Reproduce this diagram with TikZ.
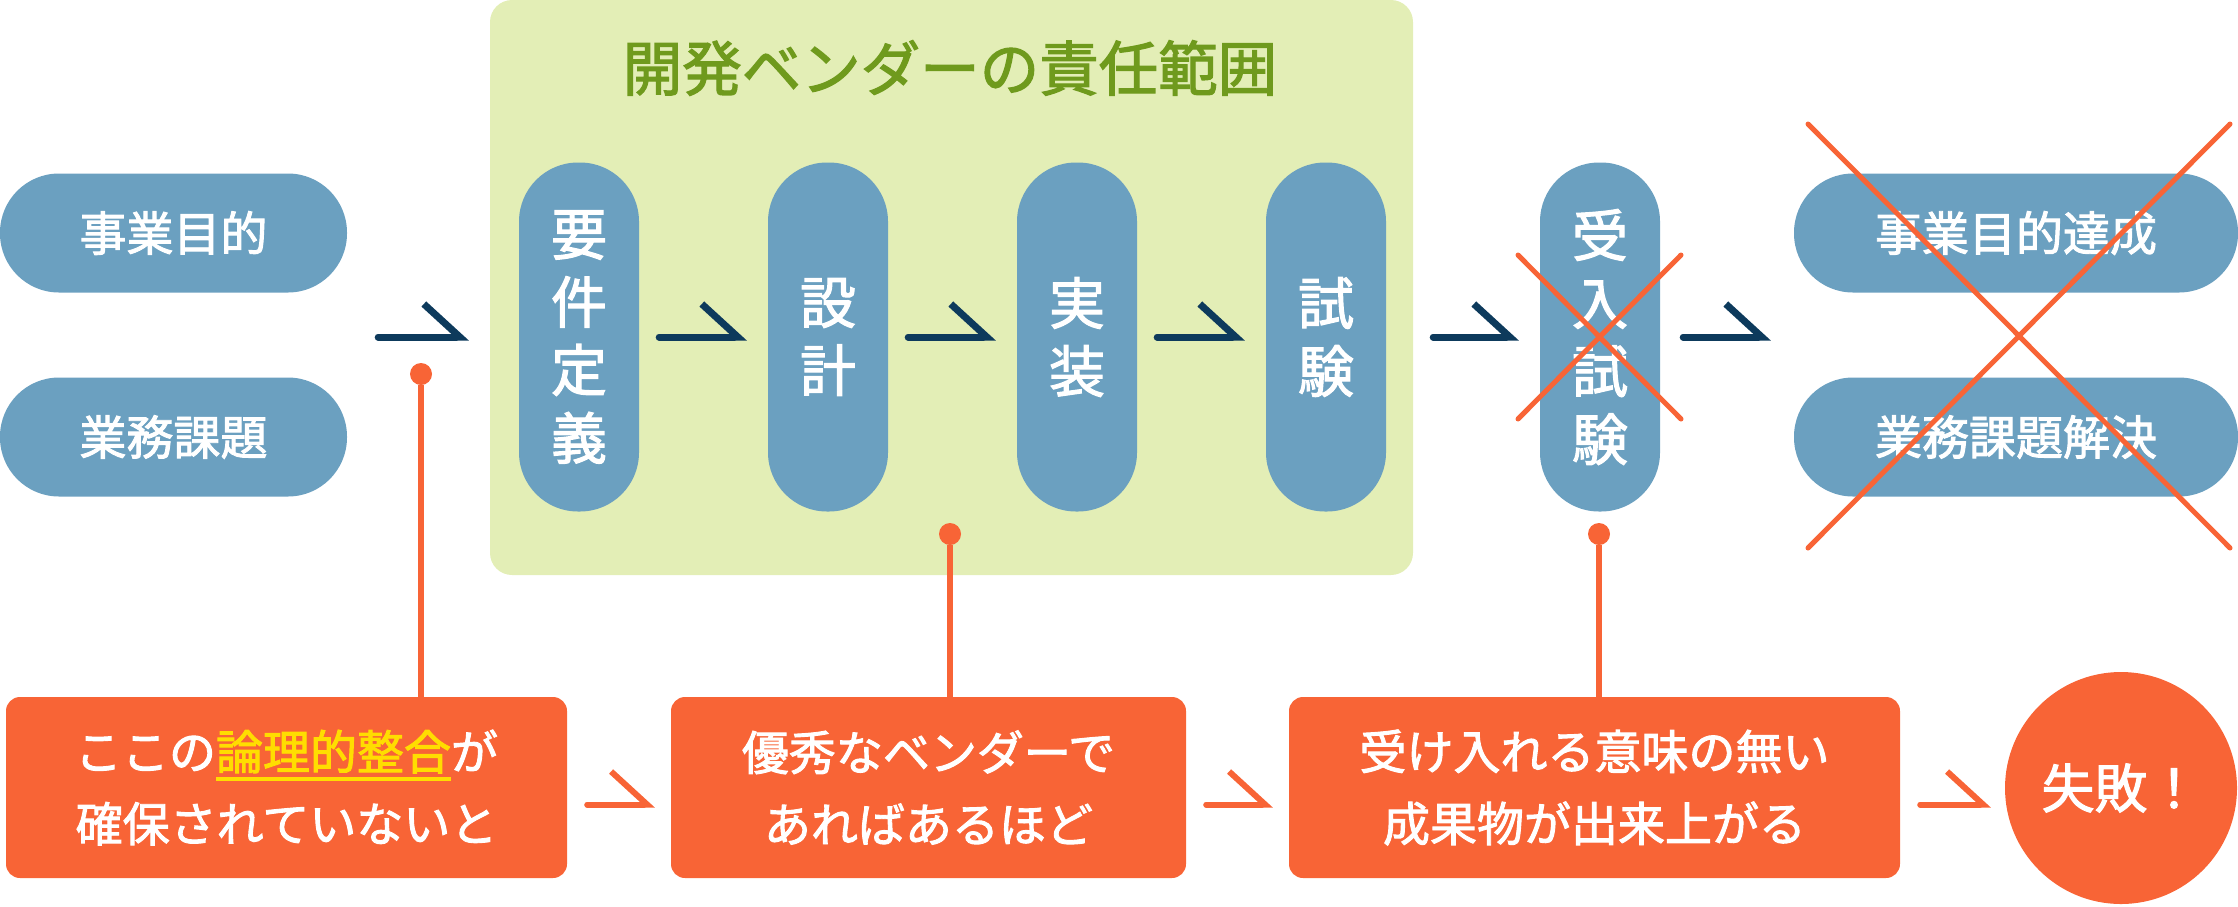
\documentclass[tikz,border=0pt]{standalone}
\usepackage{fontspec}
\setmainfont{Noto Sans CJK JP}[FakeBold=2]
\usetikzlibrary{arrows.meta}
\definecolor{pill}{HTML}{6BA0C0}
\definecolor{scope}{HTML}{E3EEB6}
\definecolor{scopetext}{HTML}{6F9A1D}
\definecolor{navy}{HTML}{0D3A5C}
\definecolor{warn}{HTML}{F86436}
\definecolor{hl}{HTML}{FFDD00}
\newcommand\hlul[1]{\textcolor{hl}{\setbox0=\hbox{#1}\rlap{\rule[-11pt]{\wd0}{4pt}}\box0}}
\begin{document}
\begin{tikzpicture}[x=1pt,y=-1pt,
    wide/.style={fill=pill,text=white,minimum width=347pt,minimum height=119pt,
      rounded corners=59pt,font=\fontsize{47}{56}\selectfont},
    tall/.style={fill=pill,text=white,minimum width=120pt,minimum height=349pt,
      rounded corners=59pt,align=center,font=\fontsize{56}{68}\selectfont},
    note/.style={fill=warn,text=white,rounded corners=14pt,minimum height=181pt,
      align=center,font=\fontsize{47}{72}\selectfont},
    flow/.style={navy,line width=7pt,line cap=round,shorten <=20pt,shorten >=21pt,
      -{Straight Barb[harpoon,sharp,length=36pt,width=66pt]}},
    warnflow/.style={flow,warn,line width=6pt,shorten >=16pt},
    dot/.style={circle,fill=warn,inner sep=0pt,minimum size=22pt},
    stem/.style={warn,line width=6pt},
    cross/.style={warn,line width=5pt,line cap=round}]
  \useasboundingbox (0,0) rectangle (2238,906);
  \node[fill=scope,rounded corners=22pt,minimum width=923pt,minimum height=575pt] (vendor) at (951.5,287.5) {};
  \node[text=scopetext,font=\fontsize{59.5}{64}\selectfont] (title) at (950,68) {開発ベンダーの責任範囲};
  \node[wide] (biz) at (173.5,233) {事業目的};
  \node[wide] (task) at (173.5,437) {業務課題};
  \node[tall] (req) at (579,337) {要\\件\\定\\義};
  \node[tall] (des) at (828,337) {設\\計};
  \node[tall] (impl) at (1077,337) {実\\装};
  \node[tall] (test) at (1326,337) {試\\験};
  \node[tall] (acc) at (1600,337) {受\\入\\試\\験};
  \node[wide,minimum width=444pt] (goal) at (2016,233) {事業目的達成};
  \node[wide,minimum width=444pt] (fix) at (2016,437) {業務課題解決};
  \draw[flow,shorten <=31pt] (biz.east |- req.center) -- (vendor.west |- req.center);
  \foreach \a/\b in {req/des,des/impl,impl/test}
    \draw[flow] (\a) -- (\b);
  \draw[flow] (vendor.east |- acc.center) -- (acc);
  \draw[flow,shorten <=23pt,shorten >=23pt] (acc) -- (acc -| goal.west);
  \node[note,minimum width=561pt] (why) at (286.5,787.5) {ここの\hlul{論理的整合}が\\確保されていないと};
  \node[note,minimum width=515pt] (good) at (928.5,787.5) {優秀なベンダーで\\あればあるほど};
  \node[note,minimum width=611pt] (waste) at (1594.5,787.5) {受け入れる意味の無い\\成果物が出来上がる};
  \node[circle,fill=warn,text=white,minimum size=232pt,font=\fontsize{53}{60}\selectfont] (fail) at (2121,788) {失敗！};
  \draw[warnflow] ([yshift=-17pt]why.east) -- ([yshift=-17pt]good.west);
  \draw[warnflow] ([yshift=-17pt]good.east) -- ([yshift=-17pt]good.east -| waste.west);
  \draw[warnflow,shorten >=14pt] ([yshift=-17pt]waste.east) -- ([yshift=-17pt]waste.east -| fail.west);
  \node[dot] (d1) at (421,374) {};
  \node[dot] (d2) at (950,534) {};
  \node[dot] (d3) at (1599,534) {};
  \draw[stem] (d1) -- (d1 |- why.north);
  \draw[stem] (d2) -- (d2 |- good.north);
  \draw[stem] (d3) -- (d3 |- waste.north);
  \draw[cross] (1518,255) -- (1681,419) (1681,255) -- (1518,419);
  \draw[cross] (1808,124) -- (2230,548) (2230,124) -- (1808,548);
\end{tikzpicture}
\end{document}
